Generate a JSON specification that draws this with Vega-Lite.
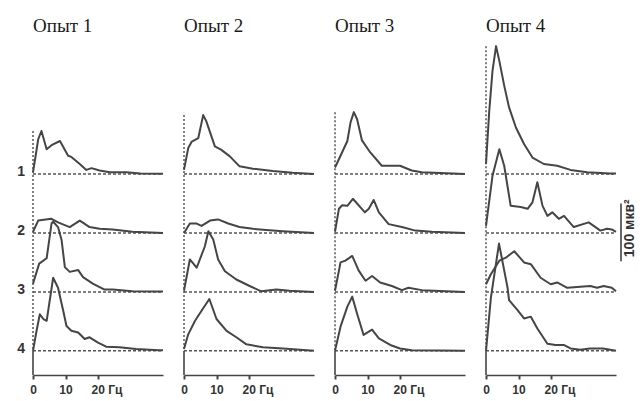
{
"$schema": "https://vega.github.io/schema/vega-lite/v6.json",
"padding": {"left": 17, "top": 17, "right": 5, "bottom": 5},
"bounds": "flush",
"background": "white",
"config": {"view": {"stroke": null}, "axisY": {"disable": true}},
"data": {"values": [
{"e":1,"t":1,"f":0,"p":3},{"e":1,"t":1,"f":0.9,"p":34},{"e":1,"t":1,"f":1.6,"p":59},{"e":1,"t":1,"f":2.6,"p":73},{"e":1,"t":1,"f":4.2,"p":42},{"e":1,"t":1,"f":6,"p":50},{"e":1,"t":1,"f":8.3,"p":56},{"e":1,"t":1,"f":10.8,"p":31},{"e":1,"t":1,"f":11.8,"p":29},{"e":1,"t":1,"f":14.4,"p":17},{"e":1,"t":1,"f":16.4,"p":7},{"e":1,"t":1,"f":18,"p":10},{"e":1,"t":1,"f":20.5,"p":6},{"e":1,"t":1,"f":23.6,"p":3},{"e":1,"t":1,"f":28.7,"p":3},{"e":1,"t":1,"f":33,"p":1},{"e":1,"t":1,"f":40,"p":0.5},
{"e":1,"t":2,"f":0,"p":2},{"e":1,"t":2,"f":1.6,"p":21},{"e":1,"t":2,"f":5.7,"p":24},{"e":1,"t":2,"f":7.7,"p":18},{"e":1,"t":2,"f":11.3,"p":10},{"e":1,"t":2,"f":14.4,"p":21},{"e":1,"t":2,"f":17.4,"p":10},{"e":1,"t":2,"f":20.5,"p":7},{"e":1,"t":2,"f":24.5,"p":6},{"e":1,"t":2,"f":30.6,"p":2},{"e":1,"t":2,"f":40,"p":0},
{"e":1,"t":3,"f":0,"p":14},{"e":1,"t":3,"f":1.9,"p":48},{"e":1,"t":3,"f":4.2,"p":57},{"e":1,"t":3,"f":5.7,"p":116},{"e":1,"t":3,"f":6.2,"p":119},{"e":1,"t":3,"f":7.7,"p":110},{"e":1,"t":3,"f":8.8,"p":88},{"e":1,"t":3,"f":9.8,"p":42},{"e":1,"t":3,"f":11.3,"p":34},{"e":1,"t":3,"f":13.9,"p":37},{"e":1,"t":3,"f":15.4,"p":25},{"e":1,"t":3,"f":18.4,"p":14},{"e":1,"t":3,"f":22,"p":4},{"e":1,"t":3,"f":24.5,"p":4},{"e":1,"t":3,"f":30.6,"p":1},{"e":1,"t":3,"f":40,"p":0.5},
{"e":1,"t":4,"f":0,"p":0},{"e":1,"t":4,"f":1.1,"p":34},{"e":1,"t":4,"f":2.1,"p":62},{"e":1,"t":4,"f":3.2,"p":54},{"e":1,"t":4,"f":4.2,"p":51},{"e":1,"t":4,"f":6.2,"p":124},{"e":1,"t":4,"f":7.7,"p":107},{"e":1,"t":4,"f":9.3,"p":68},{"e":1,"t":4,"f":10.3,"p":42},{"e":1,"t":4,"f":11.8,"p":34},{"e":1,"t":4,"f":13.9,"p":31},{"e":1,"t":4,"f":15.9,"p":20},{"e":1,"t":4,"f":17.4,"p":23},{"e":1,"t":4,"f":20,"p":14},{"e":1,"t":4,"f":22.5,"p":7},{"e":1,"t":4,"f":26.6,"p":6},{"e":1,"t":4,"f":31.7,"p":3},{"e":1,"t":4,"f":38.8,"p":1},{"e":1,"t":4,"f":40,"p":1},
{"e":2,"t":1,"f":0,"p":7},{"e":2,"t":1,"f":1.3,"p":44},{"e":2,"t":1,"f":2.4,"p":55},{"e":2,"t":1,"f":4.4,"p":61},{"e":2,"t":1,"f":5.9,"p":100},{"e":2,"t":1,"f":6.9,"p":89},{"e":2,"t":1,"f":9.5,"p":47},{"e":2,"t":1,"f":11.5,"p":41},{"e":2,"t":1,"f":14.1,"p":30},{"e":2,"t":1,"f":17.1,"p":13},{"e":2,"t":1,"f":21.2,"p":9},{"e":2,"t":1,"f":27.3,"p":5},{"e":2,"t":1,"f":33.4,"p":2},{"e":2,"t":1,"f":40,"p":0},
{"e":2,"t":2,"f":0,"p":0},{"e":2,"t":2,"f":1.8,"p":16},{"e":2,"t":2,"f":3.9,"p":16},{"e":2,"t":2,"f":5.4,"p":12},{"e":2,"t":2,"f":8,"p":21},{"e":2,"t":2,"f":10.5,"p":23},{"e":2,"t":2,"f":13.6,"p":16},{"e":2,"t":2,"f":17.1,"p":10},{"e":2,"t":2,"f":21.2,"p":7},{"e":2,"t":2,"f":25.3,"p":5},{"e":2,"t":2,"f":30.4,"p":3},{"e":2,"t":2,"f":40,"p":0},
{"e":2,"t":3,"f":0,"p":2},{"e":2,"t":3,"f":1.8,"p":55},{"e":2,"t":3,"f":3.9,"p":41},{"e":2,"t":3,"f":6.4,"p":77},{"e":2,"t":3,"f":7.5,"p":103},{"e":2,"t":3,"f":9,"p":89},{"e":2,"t":3,"f":10.5,"p":55},{"e":2,"t":3,"f":12.6,"p":35},{"e":2,"t":3,"f":16.1,"p":21},{"e":2,"t":3,"f":20.2,"p":10},{"e":2,"t":3,"f":23.8,"p":1},{"e":2,"t":3,"f":28.4,"p":4},{"e":2,"t":3,"f":32.5,"p":2},{"e":2,"t":3,"f":40,"p":0},
{"e":2,"t":4,"f":0,"p":3},{"e":2,"t":4,"f":1.3,"p":28},{"e":2,"t":4,"f":3.4,"p":51},{"e":2,"t":4,"f":5.4,"p":68},{"e":2,"t":4,"f":7.8,"p":88},{"e":2,"t":4,"f":10,"p":54},{"e":2,"t":4,"f":13.1,"p":34},{"e":2,"t":4,"f":16.1,"p":23},{"e":2,"t":4,"f":19.2,"p":11},{"e":2,"t":4,"f":24.3,"p":6},{"e":2,"t":4,"f":30.4,"p":4},{"e":2,"t":4,"f":40,"p":0},
{"e":3,"t":1,"f":0,"p":11},{"e":3,"t":1,"f":1.7,"p":31},{"e":3,"t":1,"f":3.8,"p":56},{"e":3,"t":1,"f":4.8,"p":88},{"e":3,"t":1,"f":5.8,"p":105},{"e":3,"t":1,"f":6.8,"p":93},{"e":3,"t":1,"f":8.3,"p":57},{"e":3,"t":1,"f":10.8,"p":37},{"e":3,"t":1,"f":14.4,"p":14},{"e":3,"t":1,"f":20,"p":14},{"e":3,"t":1,"f":23.6,"p":6},{"e":3,"t":1,"f":26.7,"p":3},{"e":3,"t":1,"f":40,"p":0},
{"e":3,"t":2,"f":0,"p":2},{"e":3,"t":2,"f":1.2,"p":41},{"e":3,"t":2,"f":2.2,"p":47},{"e":3,"t":2,"f":3.8,"p":46},{"e":3,"t":2,"f":5.5,"p":58},{"e":3,"t":2,"f":9.2,"p":35},{"e":3,"t":2,"f":10.4,"p":41},{"e":3,"t":2,"f":11.9,"p":56},{"e":3,"t":2,"f":13.5,"p":35},{"e":3,"t":2,"f":16.5,"p":15},{"e":3,"t":2,"f":20.6,"p":10},{"e":3,"t":2,"f":24.7,"p":4},{"e":3,"t":2,"f":29.8,"p":2},{"e":3,"t":2,"f":40,"p":0},
{"e":3,"t":3,"f":0,"p":2},{"e":3,"t":3,"f":1.7,"p":50},{"e":3,"t":3,"f":3.2,"p":53},{"e":3,"t":3,"f":5.3,"p":61},{"e":3,"t":3,"f":7.3,"p":36},{"e":3,"t":3,"f":9.4,"p":19},{"e":3,"t":3,"f":11.4,"p":27},{"e":3,"t":3,"f":13.9,"p":16},{"e":3,"t":3,"f":17.5,"p":10},{"e":3,"t":3,"f":20.6,"p":3},{"e":3,"t":3,"f":22.6,"p":7},{"e":3,"t":3,"f":26.7,"p":3},{"e":3,"t":3,"f":40,"p":0},
{"e":3,"t":4,"f":0,"p":0},{"e":3,"t":4,"f":1.7,"p":41},{"e":3,"t":4,"f":3.8,"p":75},{"e":3,"t":4,"f":5.3,"p":92},{"e":3,"t":4,"f":6.8,"p":63},{"e":3,"t":4,"f":8.8,"p":27},{"e":3,"t":4,"f":11.4,"p":36},{"e":3,"t":4,"f":13.5,"p":21},{"e":3,"t":4,"f":17,"p":10},{"e":3,"t":4,"f":20,"p":4},{"e":3,"t":4,"f":23.6,"p":1},{"e":3,"t":4,"f":40,"p":0},
{"e":4,"t":1,"f":0,"p":17},{"e":4,"t":1,"f":1,"p":107},{"e":4,"t":1,"f":2,"p":175},{"e":4,"t":1,"f":3.1,"p":217},{"e":4,"t":1,"f":4.1,"p":192},{"e":4,"t":1,"f":5.6,"p":150},{"e":4,"t":1,"f":7.1,"p":113},{"e":4,"t":1,"f":9.2,"p":79},{"e":4,"t":1,"f":11.7,"p":51},{"e":4,"t":1,"f":14.3,"p":28},{"e":4,"t":1,"f":17.8,"p":17},{"e":4,"t":1,"f":21.9,"p":14},{"e":4,"t":1,"f":26,"p":7},{"e":4,"t":1,"f":31.1,"p":3},{"e":4,"t":1,"f":38.2,"p":1},{"e":4,"t":1,"f":40,"p":1},
{"e":4,"t":2,"f":0,"p":12},{"e":4,"t":2,"f":2,"p":97},{"e":4,"t":2,"f":4.1,"p":142},{"e":4,"t":2,"f":5.6,"p":114},{"e":4,"t":2,"f":7.6,"p":46},{"e":4,"t":2,"f":10.7,"p":44},{"e":4,"t":2,"f":12.8,"p":41},{"e":4,"t":2,"f":14.3,"p":52},{"e":4,"t":2,"f":15.8,"p":86},{"e":4,"t":2,"f":17.4,"p":46},{"e":4,"t":2,"f":18.9,"p":29},{"e":4,"t":2,"f":20.4,"p":35},{"e":4,"t":2,"f":22.4,"p":24},{"e":4,"t":2,"f":24,"p":29},{"e":4,"t":2,"f":27,"p":10},{"e":4,"t":2,"f":31.6,"p":18},{"e":4,"t":2,"f":35.2,"p":4},{"e":4,"t":2,"f":37.2,"p":7},{"e":4,"t":2,"f":38.7,"p":6},{"e":4,"t":2,"f":40,"p":2},
{"e":4,"t":3,"f":0,"p":13},{"e":4,"t":3,"f":1.5,"p":30},{"e":4,"t":3,"f":4.1,"p":53},{"e":4,"t":3,"f":6.1,"p":58},{"e":4,"t":3,"f":8.7,"p":69},{"e":4,"t":3,"f":11.7,"p":50},{"e":4,"t":3,"f":13.8,"p":47},{"e":4,"t":3,"f":16.8,"p":24},{"e":4,"t":3,"f":19.9,"p":13},{"e":4,"t":3,"f":21.9,"p":16},{"e":4,"t":3,"f":25,"p":7},{"e":4,"t":3,"f":32.1,"p":10},{"e":4,"t":3,"f":34.2,"p":7},{"e":4,"t":3,"f":36.2,"p":10},{"e":4,"t":3,"f":38.7,"p":7},{"e":4,"t":3,"f":40,"p":1},
{"e":4,"t":4,"f":0,"p":0},{"e":4,"t":4,"f":1.5,"p":90},{"e":4,"t":4,"f":4,"p":182},{"e":4,"t":4,"f":6.6,"p":108},{"e":4,"t":4,"f":7.1,"p":86},{"e":4,"t":4,"f":9.7,"p":69},{"e":4,"t":4,"f":11.7,"p":55},{"e":4,"t":4,"f":13.8,"p":58},{"e":4,"t":4,"f":15.8,"p":38},{"e":4,"t":4,"f":18.9,"p":12},{"e":4,"t":4,"f":21.4,"p":10},{"e":4,"t":4,"f":23.9,"p":10},{"e":4,"t":4,"f":26,"p":4},{"e":4,"t":4,"f":29,"p":2},{"e":4,"t":4,"f":32,"p":4},{"e":4,"t":4,"f":36,"p":4},{"e":4,"t":4,"f":40,"p":0}
]},
"transform": [{"calculate": "datum.p + (4 - datum.t) * 100", "as": "y"}],
"facet": {"column": {"field": "e", "type": "ordinal", "title": null,
  "header": {"labelExpr": "'Опыт ' + datum.value", "labelFont": "Liberation Serif", "labelFontSize": 19, "labelColor": "#1a1a1a", "labelAnchor": "start", "labelAlign": "left", "labelPadding": 6}}},
"spacing": 21,
"spec": {
  "width": 130, "height": 333,
  "layer": [
    {"transform": [{"aggregate": [{"op": "count", "as": "n"}], "groupby": ["e", "t"]}, {"calculate": "(4 - datum.t) * 100", "as": "b"}],
     "mark": {"type": "rule", "stroke": "#555", "strokeWidth": 1.5, "strokeDash": [3, 2]},
     "encoding": {"x": {"datum": 0}, "x2": {"datum": 40}, "y": {"field": "b", "type": "quantitative"}}},
    {"transform": [{"aggregate": [{"op": "max", "field": "y", "as": "m"}], "groupby": ["e"]}],
     "mark": {"type": "rule", "stroke": "#555", "strokeWidth": 1.5, "strokeDash": [2, 2]},
     "encoding": {"x": {"datum": 0}, "y": {"field": "m", "type": "quantitative"}, "y2": {"datum": 0}}},
    {"transform": [{"aggregate": [{"op": "count", "as": "n"}], "groupby": ["e"]}],
     "mark": {"type": "rule", "stroke": "#444", "strokeWidth": 1.6},
     "encoding": {"x": {"datum": 0}, "y": {"datum": 0}, "y2": {"datum": -41}}},
    {"mark": {"type": "line", "stroke": "#454545", "strokeWidth": 2, "strokeJoin": "round"},
     "encoding": {
       "x": {"field": "f", "type": "quantitative", "scale": {"domain": [0, 40], "nice": false, "zero": false},
         "axis": {"title": null, "values": [0, 10, 20], "grid": false, "domainColor": "#444", "domainWidth": 1.6, "tickColor": "#444", "tickWidth": 2, "tickSize": 4,
           "labelFont": "Liberation Sans", "labelFontSize": 12, "labelFontWeight": "bold", "labelColor": "#333", "labelPadding": 5,
           "labelExpr": "datum.value == 20 ? '20 Гц' : datum.label",
           "labelAlign": {"condition": {"test": "datum.value == 20", "value": "left"}, "value": "center"},
           "labelOffset": {"condition": {"test": "datum.value == 20", "value": -7}, "value": 0}}},
       "y": {"field": "y", "type": "quantitative", "scale": {"domain": [-41, 524], "nice": false, "zero": false}},
       "detail": {"field": "t"}}},
    {"transform": [{"filter": "datum.e == 1"}, {"aggregate": [{"op": "count", "as": "n"}], "groupby": ["e", "t"]}, {"calculate": "(4 - datum.t) * 100", "as": "b"}],
     "mark": {"type": "text", "align": "right", "baseline": "middle", "dx": -8, "dy": -2, "font": "Liberation Sans", "fontSize": 14, "fontWeight": "bold", "color": "#333"},
     "encoding": {"x": {"datum": 0}, "y": {"field": "b", "type": "quantitative"}, "text": {"field": "t"}}},
    {"transform": [{"filter": "datum.e == 4"}, {"aggregate": [{"op": "count", "as": "n"}], "groupby": ["e"]}],
     "mark": {"type": "rule", "stroke": "#333", "strokeWidth": 1.5, "xOffset": 5},
     "encoding": {"x": {"datum": 40}, "y": {"datum": 152}, "y2": {"datum": 250}}},
    {"transform": [{"filter": "datum.e == 4"}, {"aggregate": [{"op": "count", "as": "n"}], "groupby": ["e"]}],
     "mark": {"type": "text", "angle": 270, "align": "center", "baseline": "top", "xOffset": 7, "font": "Liberation Sans", "fontSize": 14, "fontWeight": "bold", "color": "#333", "text": "100 мкв²"},
     "encoding": {"x": {"datum": 40}, "y": {"datum": 208}}}
  ]
}
}
